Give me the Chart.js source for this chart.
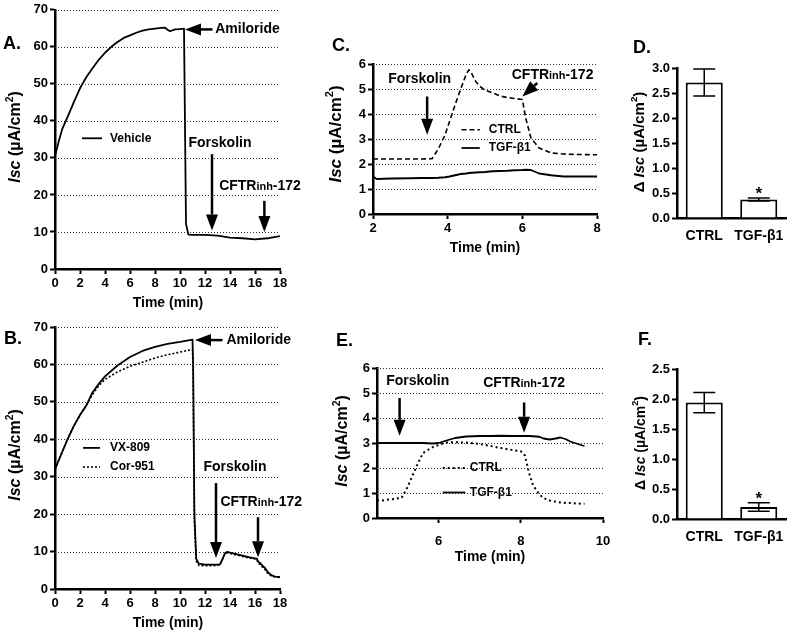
<!DOCTYPE html>
<html>
<head>
<meta charset="utf-8">
<script src="https://cdn.jsdelivr.net/npm/chart.js@4.4.0/dist/chart.umd.min.js"></script>
<style>
  html, body { margin: 0; padding: 0; background: #fff; }
  #wrap { position: relative; width: 792px; height: 636px; overflow: hidden; }
  #wrap canvas { position: absolute; left: 0; top: 0; }
</style>
</head>
<body>
<div id="wrap">
  <canvas id="cA" width="792" height="636"></canvas>
  <canvas id="cB" width="792" height="636"></canvas>
  <canvas id="cC" width="792" height="636"></canvas>
  <canvas id="cD" width="792" height="636"></canvas>
  <canvas id="cE" width="792" height="636"></canvas>
  <canvas id="cF" width="792" height="636"></canvas>
</div>
<script>
// ---- data ----
// A: vehicle trace
const timeA = [0, 0.3, 0.6, 1, 1.5, 2, 2.5, 3, 3.5, 4, 4.5, 5, 5.5, 6, 6.5, 7, 7.5, 8, 8.5, 8.8, 9.0, 9.2, 9.6, 10, 10.32, 10.48, 10.67, 11, 12, 13, 14, 15, 16, 17, 18];
const vehicleA = [30.5, 34.5, 38, 41, 45, 48.8, 51.8, 54.2, 56.5, 58.4, 60.0, 61.3, 62.4, 63.1, 63.8, 64.4, 64.7, 64.9, 65.1, 65.2, 64.6, 64.2, 64.7, 64.8, 64.9, 12.2, 9.3, 9.2, 9.2, 9.0, 8.5, 8.3, 8.0, 8.3, 8.9];
const xTicksA = [0, 2, 4, 6, 8, 10, 12, 14, 16, 18];
const yTicksA = [0, 10, 20, 30, 40, 50, 60, 70];

// B: VX-809 vs Cor-951
const timeB = [0, 0.5, 1, 1.5, 2, 2.5, 3, 3.5, 4, 5, 6, 7, 8, 9, 10, 11, 11.05, 11.15, 11.3, 11.5, 12, 12.5, 13, 13.2, 13.4, 13.6, 13.8, 14, 14.5, 15, 15.5, 16, 16.15, 16.25, 16.4, 16.6, 16.8, 17, 17.3, 17.6, 18];
const vx809B = [32, 36, 40, 43.5, 46.5, 49, 52.5, 54.8, 56.8, 59.7, 62, 63.6, 64.7, 65.5, 66, 66.6, 60, 20, 8, 6.8, 6.5, 6.5, 6.5, 6.6, 8, 9.6, 9.9, 9.7, 9.3, 8.9, 8.5, 8.2, 8.1, 7.3, 7.0, 6.2, 5.6, 4.6, 3.7, 3.3, 3.2];
const cor951B = [32, 36, 40, 43.5, 46.5, 49, 52, 54.3, 56, 58, 59.5, 60.6, 61.7, 62.6, 63.3, 64, 58, 18, 7.5, 6.3, 6.2, 6.2, 6.3, 6.5, 8, 9.4, 9.7, 9.5, 9.1, 8.7, 8.3, 8.0, 7.8, 6.8, 6.6, 5.8, 5.2, 4.2, 3.5, 3.2, 3.1];
const xTicksB = [0, 2, 4, 6, 8, 10, 12, 14, 16, 18];
const yTicksB = [0, 10, 20, 30, 40, 50, 60, 70];

// C: CTRL vs TGF-b1
const timeC = [2, 2.1, 2.5, 3, 3.3, 3.58, 3.75, 3.93, 4.05, 4.2, 4.35, 4.5, 4.57, 4.65, 4.75, 4.87, 5.0, 5.2, 5.4, 5.6, 5.8, 6.0, 6.09, 6.23, 6.45, 6.77, 7.1, 7.5, 8];
const ctrlC = [2.2, 2.2, 2.2, 2.2, 2.2, 2.21, 2.6, 3.17, 3.7, 4.37, 5.0, 5.6, 5.77, 5.6, 5.3, 5.1, 4.95, 4.85, 4.72, 4.66, 4.62, 4.58, 3.84, 3.04, 2.64, 2.44, 2.4, 2.38, 2.37];
const tgfC = [1.5, 1.4, 1.42, 1.43, 1.44, 1.44, 1.45, 1.47, 1.5, 1.55, 1.6, 1.62, 1.64, 1.65, 1.66, 1.67, 1.68, 1.71, 1.72, 1.73, 1.75, 1.76, 1.77, 1.76, 1.62, 1.55, 1.5, 1.5, 1.5];
const xTicksC = [2, 4, 6, 8];
const yTicksC = [0, 1, 2, 3, 4, 5, 6];

// E: CTRL vs TGF-b1
const timeE = [4.5, 4.6, 5.1, 5.25, 5.46, 5.62, 5.86, 6.0, 6.19, 6.4, 6.67, 7.0, 7.24, 7.5, 7.8, 8.0, 8.1, 8.2, 8.3, 8.45, 8.55, 8.7, 8.85, 8.96, 9.1, 9.2, 9.35, 9.5, 9.55];
const tgfE = [3.0, 3.0, 3.0, 3.0, 3.0, 3.0, 2.98, 3.0, 3.1, 3.2, 3.26, 3.28, 3.28, 3.29, 3.28, 3.28, 3.28, 3.28, 3.27, 3.25, 3.18, 3.14, 3.18, 3.22, 3.15, 3.06, 2.98, 2.9, 2.88];
const ctrlE = [0.7, 0.7, 0.8, 1.26, 2.06, 2.6, 2.84, 2.92, 3.02, 3.03, 3.02, 2.96, 2.89, 2.8, 2.72, 2.67, 2.5, 1.8, 1.3, 0.95, 0.8, 0.7, 0.65, 0.62, 0.6, 0.6, 0.58, 0.57, 0.57];
const xTicksE = [6, 8, 10];
const yTicksE = [0, 1, 2, 3, 4, 5, 6];

// D / F: summary bars
const barLabels = ['CTRL', 'TGF-β1'];
const meanD = [2.71, 0.37];
const semD = [0.27, 0.03];
const yTicksD = [0, 0.5, 1.0, 1.5, 2.0, 2.5, 3.0];
const meanF = [1.94, 0.2];
const semF = [0.17, 0.07];
const yTicksF = [0, 0.5, 1.0, 1.5, 2.0, 2.5];

// ---- helpers ----
const FONT = '"Liberation Sans", Arial, Helvetica, sans-serif';
const W = 792, H = 636, YW = 50, XH = 40;

const pts = (xs, ys) => xs.map((x, i) => ({ x: x, y: ys[i] }));

// chart area box -> layout padding
function pad(l, t, r, b) {
  return { left: l - YW, top: t, right: W - r, bottom: H - b - XH };
}

function linScale(axis, min, max, ticks, o) {
  o = o || {};
  return {
    type: 'linear', min: min, max: max,
    afterBuildTicks: s => { s.ticks = ticks.map(v => ({ value: v })); },
    afterFit: s => { if (axis === 'x') s.height = XH; else s.width = YW; },
    border: { display: true, color: '#000', width: 2.5 },
    grid: {
      drawOnChartArea: false, drawTicks: true, tickLength: 5, tickColor: '#000', tickWidth: 2
    },
    ticks: {
      color: '#000', padding: o.pad || 2, autoSkip: false, maxRotation: 0,
      font: { family: FONT, size: o.fs || 13, weight: 'bold' },
      callback: o.fmt || (v => v)
    }
  };
}

function drawArrow(ctx, x1, y1, x2, y2) {
  const ang = Math.atan2(y2 - y1, x2 - x1), hl = 16, hw = 6;
  const bx = x2 - hl * Math.cos(ang), by = y2 - hl * Math.sin(ang);
  ctx.lineWidth = 2.5;
  ctx.beginPath(); ctx.moveTo(x1, y1); ctx.lineTo(bx, by); ctx.stroke();
  ctx.beginPath();
  ctx.moveTo(x2, y2);
  ctx.lineTo(bx + hw * Math.sin(ang), by - hw * Math.cos(ang));
  ctx.lineTo(bx - hw * Math.sin(ang), by + hw * Math.cos(ang));
  ctx.closePath(); ctx.fill();
}

// text with the "inh" of CFTRinh set smaller
function drawNote(ctx, text, cx, cy, size) {
  const parts = text.indexOf('inh') > 0
    ? [[text.split('inh')[0], size], ['inh', size * 0.78], [text.split('inh')[1], size]]
    : [[text, size]];
  let total = 0;
  parts.forEach(p => { ctx.font = `bold ${p[1]}px ${FONT}`; total += ctx.measureText(p[0]).width; });
  let x = cx - total / 2;
  ctx.textAlign = 'left'; ctx.textBaseline = 'middle';
  parts.forEach(p => {
    ctx.font = `bold ${p[1]}px ${FONT}`;
    ctx.fillText(p[0], x, cy + (p[1] < size ? 1 : 0));
    x += ctx.measureText(p[0]).width;
  });
}

function drawYTitle(ctx, t) {
  const s = t.size;
  const segs = [];
  if (t.delta) segs.push(['Δ ', 'bold', s, 0]);
  segs.push(['Isc', 'italic bold', s, 0], [' (µA/cm', 'bold', s, 0], ['2', 'bold', s * 0.65, s * 0.38], [')', 'bold', s, 0]);
  ctx.save();
  ctx.translate(t.x, t.y);
  ctx.rotate(-Math.PI / 2);
  let total = 0;
  segs.forEach(g => { ctx.font = `${g[1]} ${g[2]}px ${FONT}`; total += ctx.measureText(g[0]).width; });
  let x = -total / 2;
  ctx.textAlign = 'left'; ctx.textBaseline = 'middle';
  segs.forEach(g => {
    ctx.font = `${g[1]} ${g[2]}px ${FONT}`;
    ctx.fillText(g[0], x, -g[3]);
    x += ctx.measureText(g[0]).width;
  });
  ctx.restore();
}

// dotted horizontal guides at the y ticks
const dotGrid = {
  id: 'dotGrid',
  beforeDatasetsDraw(chart, args, o) {
    if (!o.on) return;
    const ctx = chart.ctx, ys = chart.scales.y, a = chart.chartArea;
    ctx.save();
    ctx.strokeStyle = '#333'; ctx.lineWidth = 1; ctx.setLineDash([1, 2]);
    ys.ticks.forEach(t => {
      if (t.value === ys.min) return;
      const y = Math.round(ys.getPixelForValue(t.value)) + 0.5;
      ctx.beginPath(); ctx.moveTo(a.left, y); ctx.lineTo(a.right, y); ctx.stroke();
    });
    ctx.restore();
  }
};

const decor = {
  id: 'decor',
  afterDraw(chart, args, o) {
    const ctx = chart.ctx, xs = chart.scales.x, ys = chart.scales.y;
    const px = v => xs.getPixelForValue(v), py = v => ys.getPixelForValue(v);
    ctx.save();
    ctx.fillStyle = '#000'; ctx.strokeStyle = '#000';
    if (o.letter) {
      ctx.font = `bold 18px ${FONT}`; ctx.textAlign = 'left'; ctx.textBaseline = 'middle';
      ctx.fillText(o.letter[0], o.letter[1], o.letter[2]);
    }
    if (o.xTitle) {
      ctx.font = `bold 14px ${FONT}`; ctx.textAlign = 'center'; ctx.textBaseline = 'middle';
      ctx.fillText('Time (min)', o.xTitle[0], o.xTitle[1]);
    }
    if (o.yTitle) drawYTitle(ctx, o.yTitle);
    (o.notes || []).forEach(n => {
      if (n.text) drawNote(ctx, n.text, px(n.at[0]), py(n.at[1]), n.size || 14);
      if (n.from) drawArrow(ctx, px(n.from[0]), py(n.from[1]), px(n.to[0]), py(n.to[1]));
    });
    (o.legend || []).forEach(l => {
      const ds = chart.data.datasets[l.ds];
      ctx.save();
      ctx.lineWidth = ds.borderWidth; ctx.setLineDash(ds.borderDash || []);
      ctx.beginPath(); ctx.moveTo(px(l.x1), py(l.y)); ctx.lineTo(px(l.x2), py(l.y)); ctx.stroke();
      ctx.restore();
      ctx.font = `bold 12px ${FONT}`; ctx.textAlign = 'left'; ctx.textBaseline = 'middle';
      ctx.fillText(ds.label, px(l.tx), py(l.y));
    });
    ctx.restore();
  }
};

const errBars = {
  id: 'errBars',
  afterDatasetsDraw(chart, args, o) {
    if (!o.errors) return;
    const ctx = chart.ctx, ys = chart.scales.y;
    const vals = chart.data.datasets[0].data;
    ctx.save();
    ctx.strokeStyle = '#000'; ctx.fillStyle = '#000'; ctx.lineWidth = 1.5;
    chart.getDatasetMeta(0).data.forEach((bar, i) => {
      const x = bar.x;
      const hi = ys.getPixelForValue(vals[i] + o.errors[i]);
      const lo = ys.getPixelForValue(vals[i] - o.errors[i]);
      ctx.beginPath();
      ctx.moveTo(x, hi); ctx.lineTo(x, lo);
      ctx.moveTo(x - 11, hi); ctx.lineTo(x + 11, hi);
      ctx.moveTo(x - 11, lo); ctx.lineTo(x + 11, lo);
      ctx.stroke();
      if (o.stars[i]) {
        ctx.font = `bold 17px ${FONT}`; ctx.textAlign = 'center'; ctx.textBaseline = 'alphabetic';
        ctx.fillText('*', x, hi + 1);
      }
    });
    ctx.restore();
  }
};

Chart.register(dotGrid, decor, errBars);
Chart.defaults.font.family = FONT;

function lineDs(label, xs, ys, dash, width) {
  return {
    label: label, data: pts(xs, ys), borderColor: '#000', borderWidth: width || 1.8,
    borderDash: dash || [], pointRadius: 0, tension: 0, fill: false, borderJoinStyle: 'round'
  };
}

function lineChart(id, datasets, area, xs, ys, decorOpts) {
  return new Chart(document.getElementById(id), {
    type: 'line',
    data: { datasets: datasets },
    options: {
      responsive: false, animation: false,
      layout: { padding: area },
      scales: { x: xs, y: ys },
      plugins: {
        legend: { display: false }, tooltip: { enabled: false },
        dotGrid: { on: true }, decor: decorOpts, errBars: {}
      }
    }
  });
}

function barChart(id, means, errs, area, yMax, yTicks, decorOpts) {
  return new Chart(document.getElementById(id), {
    type: 'bar',
    data: {
      labels: barLabels,
      datasets: [{
        data: means, backgroundColor: '#fff', borderColor: '#000', borderWidth: 2,
        barPercentage: 0.68, categoryPercentage: 1.0
      }]
    },
    options: {
      responsive: false, animation: false,
      layout: { padding: area },
      scales: {
        x: {
          afterFit: s => { s.height = XH; },
          border: { display: true, color: '#000', width: 2.5 },
          grid: { display: false },
          ticks: {
            color: '#000', padding: 2, autoSkip: false, maxRotation: 0, minRotation: 0,
            font: { family: FONT, size: 14, weight: 'bold' }
          }
        },
        y: linScale('y', 0, yMax, yTicks, { fmt: v => v.toFixed(1) })
      },
      plugins: {
        legend: { display: false }, tooltip: { enabled: false },
        dotGrid: { on: false }, decor: decorOpts, errBars: { errors: errs, stars: [false, true] }
      }
    }
  });
}

// ---- A ----
lineChart('cA',
  [lineDs('Vehicle', timeA, vehicleA)],
  pad(55, 7, 280, 269),
  linScale('x', 0, 18, xTicksA),
  linScale('y', 0, 70, yTicksA),
  {
    letter: ['A.', 3, 44], xTitle: [168, 303], yTitle: { x: 16, y: 137, size: 16 },
    notes: [
      { text: 'Amiloride', at: [15.4, 64.7], from: [12.6, 64.7], to: [10.4, 64.7] },
      { text: 'Forskolin', at: [13.2, 33.9], from: [12.56, 31], to: [12.56, 10.4] },
      { text: 'CFTRinh-172', at: [16.4, 22.4], from: [16.75, 18.4], to: [16.75, 10.0] }
    ],
    legend: [{ ds: 0, x1: 2.16, x2: 3.76, y: 35.3, tx: 4.4 }]
  });

// ---- B ----
lineChart('cB',
  [lineDs('VX-809', timeB, vx809B), lineDs('Cor-951', timeB, cor951B, [2, 2], 1.6)],
  pad(55, 327, 280, 589),
  linScale('x', 0, 18, xTicksB),
  linScale('y', 0, 70, yTicksB),
  {
    letter: ['B.', 4, 339], xTitle: [168, 623], yTitle: { x: 16, y: 455, size: 16 },
    notes: [
      { text: 'Amiloride', at: [16.3, 66.5], from: [13.4, 66.5], to: [11.2, 66.5] },
      { text: 'Forskolin', at: [14.4, 32.6], from: [12.88, 28.3], to: [12.88, 8.3] },
      { text: 'CFTRinh-172', at: [16.5, 23.2], from: [16.24, 19.2], to: [16.24, 8.5] }
    ],
    legend: [
      { ds: 0, x1: 2.24, x2: 3.6, y: 37.7, tx: 4.4 },
      { ds: 1, x1: 2.24, x2: 3.6, y: 32.6, tx: 4.4 }
    ]
  });

// ---- C ----
lineChart('cC',
  [lineDs('CTRL', timeC, ctrlC, [5, 3], 1.6), lineDs('TGF-β1', timeC, tgfC)],
  pad(373, 64, 597, 214),
  linScale('x', 2, 8, xTicksC),
  linScale('y', 0, 6, yTicksC),
  {
    letter: ['C.', 332, 46], xTitle: [485, 248], yTitle: { x: 336, y: 134, size: 17 },
    notes: [
      { text: 'Forskolin', at: [3.25, 5.41], from: [3.45, 4.7], to: [3.45, 3.17] },
      { text: 'CFTRinh-172', at: [6.81, 5.55], from: [6.4, 5.24], to: [6.0, 4.7] }
    ],
    legend: [
      { ds: 0, x1: 4.37, x2: 4.86, y: 3.37, tx: 5.1 },
      { ds: 1, x1: 4.37, x2: 4.86, y: 2.64, tx: 5.1 }
    ]
  });

// ---- E ----
lineChart('cE',
  [lineDs('CTRL', timeE, ctrlE, [2, 3], 2), lineDs('TGF-β1', timeE, tgfE)],
  pad(377, 368, 603, 518),
  linScale('x', 4.5, 10, xTicksE, { pad: 11 }),
  linScale('y', 0, 6, yTicksE),
  {
    letter: ['E.', 336, 341], xTitle: [490, 557], yTitle: { x: 343, y: 441, size: 16 },
    notes: [
      { text: 'Forskolin', at: [5.49, 5.46], from: [5.05, 4.8], to: [5.05, 3.29] },
      { text: 'CFTRinh-172', at: [8.08, 5.41], from: [8.08, 4.62], to: [8.08, 3.41] }
    ],
    legend: [
      { ds: 0, x1: 6.1, x2: 6.65, y: 2.0, tx: 6.76 },
      { ds: 1, x1: 6.1, x2: 6.65, y: 1.02, tx: 6.76 }
    ]
  });

// ---- D ----
barChart('cD', meanD, semD, pad(677, 68, 786, 218), 3.0, yTicksD,
  { letter: ['D.', 633, 48], yTitle: { x: 640, y: 142, size: 15, delta: true } });

// ---- F ----
barChart('cF', meanF, semF, pad(677, 369, 786, 519), 2.5, yTicksF,
  { letter: ['F.', 638, 340], yTitle: { x: 641, y: 443, size: 14, delta: true } });
</script>
</body>
</html>
